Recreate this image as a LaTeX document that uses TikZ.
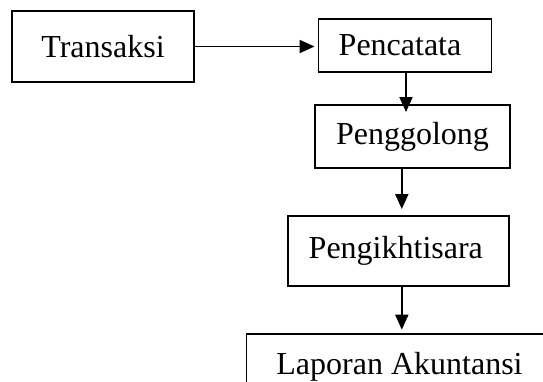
\documentclass[tikz,border=0pt]{standalone}
\usepackage{fontspec}
\setmainfont{Liberation Serif}
\usetikzlibrary{arrows.meta}
\begin{document}
\begin{tikzpicture}[x=1pt,y=-1pt,
  box/.style={draw,line width=1.9pt,inner sep=0pt,font=\fontsize{32}{36}\selectfont},
  arr/.style={line width=1.9pt,-{Triangle[length=15pt,width=13pt]}}]
\useasboundingbox (0,0) rectangle (543,381);
\clip (0,0) rectangle (543,381);
\node[box,minimum width=182pt,minimum height=71pt] (T) at (103,46.5) {Transaksi};
\node[box,minimum width=173pt,minimum height=53pt] (P) at (405,45.6) {\hspace*{-10pt}Pencatata};
\node[box,minimum width=195pt,minimum height=63pt] (G) at (412.5,136.5) {Penggolong};
\node[box,minimum width=221pt,minimum height=70pt] (K) at (398.8,251) {\hspace*{-6pt}Pengikhtisara};
\node[box,minimum width=306pt,minimum height=96pt,anchor=north] (L) at (399.5,332.7) {};
\node[font=\fontsize{32}{36}\selectfont,anchor=base,inner sep=0pt] (Ltext) at (399.5,374) {Laporan Akuntansi};
\draw[arr,shorten >=3pt] (T.east) -- (T.east -| P.west);
\draw[arr,shorten >=-8pt] ([xshift=1pt]P.south) -- ([xshift=1pt]P.south |- G.north);
\draw[arr,shorten >=6pt] ([xshift=3pt]K.north |- G.south) -- ([xshift=3pt]K.north);
\draw[arr,shorten >=3pt] ([xshift=3pt]K.south) -- ([xshift=3pt]K.south |- L.north);
\end{tikzpicture}
\end{document}
